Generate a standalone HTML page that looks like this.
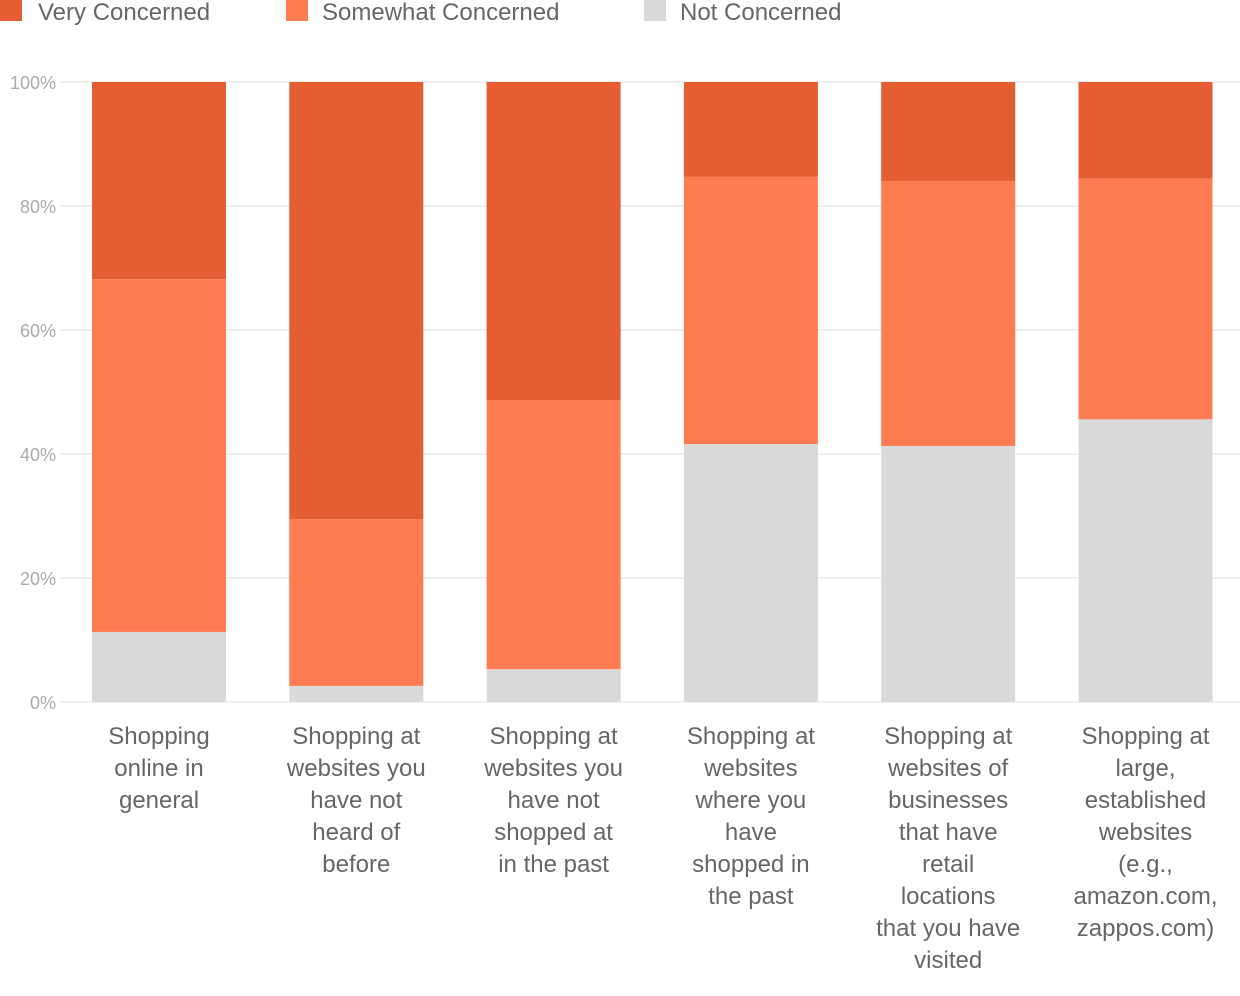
<!DOCTYPE html>
<html><head><meta charset="utf-8"><style>
html,body{margin:0;padding:0;background:#fff;width:1240px;height:996px;overflow:hidden}
svg text{font-family:"Liberation Sans",sans-serif}
</style></head><body>
<svg id="chart" width="1240" height="996" xmlns="http://www.w3.org/2000/svg">
<g>
<rect x="0" y="0" width="22" height="21" fill="#e55d33"/>
<text x="38" y="20" font-size="24" fill="#666">Very Concerned</text>
<rect x="286" y="0" width="22" height="21" fill="#ff7c52"/>
<text x="322" y="20" font-size="24" fill="#666">Somewhat Concerned</text>
<rect x="644" y="0" width="22" height="21" fill="#d9d9d7"/>
<text x="680" y="20" font-size="24" fill="#666">Not Concerned</text>
</g>
<g id="grid"></g><g id="bars"></g><g id="labels"></g>
</svg>
<script>
const categories=[["Shopping","online in","general"],["Shopping at","websites you","have not","heard of","before"],["Shopping at","websites you","have not","shopped at","in the past"],["Shopping at","websites","where you","have","shopped in","the past"],["Shopping at","websites of","businesses","that have","retail","locations","that you have","visited"],["Shopping at","large,","established","websites","(e.g.,","amazon.com,","zappos.com)"]];
const notConcerned=[11.3,2.6,5.3,41.6,41.3,45.6];
const somewhatConcerned=[56.9,26.9,43.4,43.1,42.7,38.8];
const veryConcerned=[31.8,70.5,51.3,15.3,16.0,15.6];
const ticks=[0,20,40,60,80,100];
const tickLabels=["0%","20%","40%","60%","80%","100%"];
const NS="http://www.w3.org/2000/svg";
const y=v=>702-v*6.2;
const xc=i=>159+i*197.3;
function mk(t,a,p){const e=document.createElementNS(NS,t);for(const k in a)e.setAttribute(k,a[k]);p.appendChild(e);return e;}
const grid=document.getElementById('grid');
ticks.forEach((t,i)=>{
 const l=mk('line',{x1:60,x2:1240,y1:y(t),y2:y(t),stroke:'#ebebeb','stroke-width':1.5},grid);
 
 
 const tx=mk('text',{x:56,y:y(t)+7,'font-size':18,fill:'#aaa','text-anchor':'end'},grid);
 tx.textContent=tickLabels[i];
 
 
});
const bars=document.getElementById('bars'),labels=document.getElementById('labels');
categories.forEach((c,i)=>{
 const segs=[[notConcerned[i],'#d9d9d7','not'],[somewhatConcerned[i],'#ff7c52','somewhat'],[veryConcerned[i],'#e55d33','very']];
 let base=0;
 segs.forEach(s=>{
  const top=Math.min(100,base+s[0]);
  const r=mk('rect',{x:xc(i)-67,width:134,y:y(top),height:y(base)-y(top),fill:s[1]},bars);
  
  
  base=top;
 });
 const t=mk('text',{x:xc(i),y:744,'font-size':24,fill:'#666','text-anchor':'middle'},labels);
 
 
 c.forEach((ln,j)=>{const s=mk('tspan',{x:xc(i),y:744+j*32},t);s.textContent=ln;});
});
</script>
</body></html>
